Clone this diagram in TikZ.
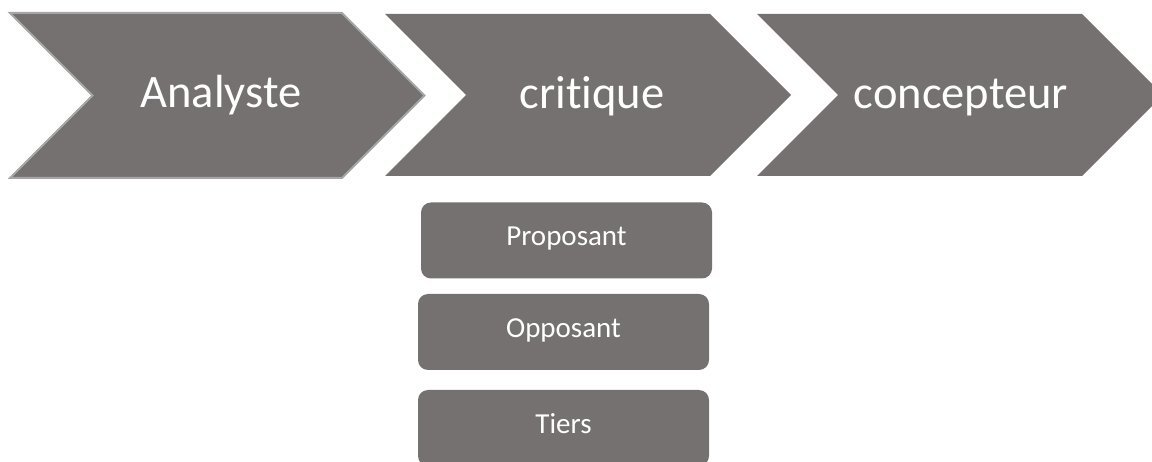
\documentclass[tikz,border=0pt]{standalone}
\usepackage{fontspec}
\setmainfont{Carlito}[Ligatures=NoCommon]
\definecolor{chevgray}{RGB}{117,113,112}
\definecolor{rimgray}{RGB}{166,166,166}

\begin{document}
\begin{tikzpicture}[x=1pt,y=-1pt,
  chev/.style={fill=chevgray},
  chevtext/.style={anchor=base,text=white,font=\fontsize{46.5}{55}\selectfont},
  role/.style={fill=chevgray,rounded corners=10pt,minimum width=291pt,minimum height=76pt,
    inner sep=0pt,text=white,text height=11pt,text depth=0pt,font=\fontsize{29}{35}\selectfont}]
\useasboundingbox (0,0) rectangle (1152,462);
\clip (0,0) rectangle (1152,462);
% the three steps
\draw[chev,draw=rimgray,line width=2pt] (10,13) -- (342,13) -- (424.5,95.5) -- (342,178) -- (10,178) -- (92.5,95.5) -- cycle;
\fill[chev] (385,14) -- (710,14) -- (791,95) -- (710,176) -- (385,176) -- (466,95) -- cycle;
\fill[chev] (757,14) -- (1082,14) -- (1163,95) -- (1082,176) -- (757,176) -- (838,95) -- cycle;
\node[chevtext] (analyste) at (221,108) {Analyste};
\node[chevtext] (critique) at (592,109) {critique};
\node[chevtext] (concepteur) at (961,109) {concepteur};
% roles under critique
\node[role] (proposant) at (566.5,240.5) {Proposant};
\node[role] (opposant) at (563.5,332) {Opposant};
\node[role] (tiers) at (563.5,428) {Tiers};
\end{tikzpicture}
\end{document}
